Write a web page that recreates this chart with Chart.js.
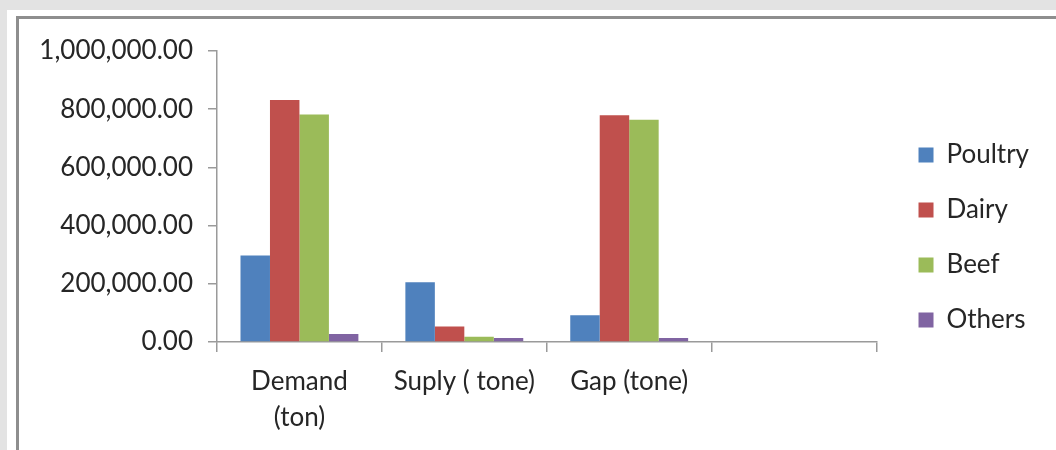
<!DOCTYPE html>
<html>
<head>
<meta charset="utf-8">
<script src="https://cdn.jsdelivr.net/npm/chart.js@4.4.1/dist/chart.umd.min.js"></script>
<style>
  html, body { margin: 0; padding: 0; }
  body { width: 1056px; height: 450px; overflow: hidden; background: #e3e3e3; position: relative; }
  .sheet { position: absolute; left: 7px; top: 10px; right: 0; bottom: 0; background: #ffffff; }
  .frame { position: absolute; left: 16px; top: 16px; right: -10px; bottom: -10px;
           border-left: 3px solid #8e8e8e; border-top: 3px solid #8e8e8e; background: #ffffff; }
  .holder { position: absolute; left: 19px; top: 19px; width: 1037px; height: 431px; }
</style>
</head>
<body>
<div class="sheet"></div>
<div class="frame"></div>
<div class="holder"><canvas id="chart" width="1037" height="431"></canvas></div>
<script>
// Livestock products: demand, supply and gap by type
const categories = [['Demand', '(ton)'], 'Suply ( tone)', 'Gap (tone)', ''];
const poultry = [297000, 205000, 92000, null];
const dairy   = [832000, 53000, 779000, null];
const beef    = [782000, 18000, 764000, null];
const others  = [27500, 13700, 13800, null];
const yTicks  = [0, 200000, 400000, 600000, 800000, 1000000];

const FONT = 'Lato, "Open Sans", sans-serif';
const TEXT = '#262626';
const AXIS = '#9a9a9a';

const fmt = v => Number(v).toLocaleString('en-US', { minimumFractionDigits: 2, maximumFractionDigits: 2 });

// invisible scales used only to reserve room around the plot
const spacer = (position, size) => ({
  type: 'linear',
  position,
  display: true,
  grid: { display: false },
  border: { display: false },
  ticks: { display: false },
  afterFit(scale) {
    if (position === 'top' || position === 'bottom') scale.height = size;
    else scale.width = size;
  }
});

new Chart(document.getElementById('chart'), {
  type: 'bar',
  data: {
    labels: categories,
    datasets: [
      { label: 'Poultry', data: poultry, backgroundColor: '#4f81bd' },
      { label: 'Dairy',   data: dairy,   backgroundColor: '#c0504d' },
      { label: 'Beef',    data: beef,    backgroundColor: '#9bbb59' },
      { label: 'Others',  data: others,  backgroundColor: '#8064a2' }
    ]
  },
  options: {
    responsive: false,
    devicePixelRatio: 1,
    animation: false,
    events: [],
    datasets: { bar: { barPercentage: 1, categoryPercentage: 0.715, borderWidth: 0 } },
    layout: { padding: { top: 6, left: 0, right: 17, bottom: 0 } },
    plugins: {
      tooltip: { enabled: false },
      legend: {
        position: 'right',
        labels: {
          font: { family: FONT, size: 26 },
          color: TEXT,
          boxWidth: 15,
          boxHeight: 15,
          padding: 29
        }
      }
    },
    scales: {
      x: {
        grid: { offset: true, drawOnChartArea: false, tickLength: 10, color: AXIS, lineWidth: 1.5 },
        border: { color: AXIS, width: 1.5 },
        ticks: {
          font: { family: FONT, size: 26, lineHeight: 1.385 },
          color: TEXT,
          padding: 12,
          maxRotation: 0,
          autoSkip: false
        },
        afterFit(scale) { scale.height = 108; }
      },
      y: {
        min: yTicks[0],
        max: yTicks[yTicks.length - 1],
        afterBuildTicks(scale) { scale.ticks = yTicks.map(v => ({ value: v })); },
        grid: { drawOnChartArea: false, tickLength: 9, color: AXIS, lineWidth: 1.5 },
        border: { color: AXIS, width: 1.5 },
        ticks: {
          font: { family: FONT, size: 26 },
          color: TEXT,
          padding: 15,
          callback: v => fmt(v)
        },
        afterFit(scale) { scale.width = 198; }
      },
      gapTop: spacer('top', 26),
      gapRight: spacer('right', 13)
    }
  }
});
</script>
</body>
</html>
